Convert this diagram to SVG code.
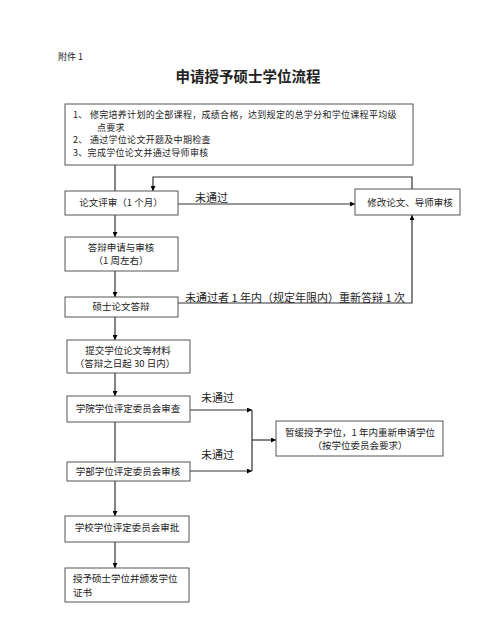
<svg xmlns="http://www.w3.org/2000/svg" width="500" height="625" viewBox="0 0 500 625">
<defs>
<marker id="ah" viewBox="0 0 10 10" refX="10" refY="5" markerWidth="5" markerHeight="5" orient="auto" markerUnits="userSpaceOnUse">
<path d="M0,0 L10,5 L0,10 z" fill="#000"/>
</marker>
<style>
.box{fill:#fff;stroke:#555;stroke-width:1}
.t{font-family:"Noto Sans CJK SC","Liberation Serif",sans-serif;font-size:9.5px;fill:#222}
.s{font-size:9px;letter-spacing:0.3px}
.c{text-anchor:middle}
.lbl{font-family:"Noto Sans CJK SC","Liberation Serif",sans-serif;font-size:11px;fill:#222}
.ln{fill:none;stroke:#333;stroke-width:1.2}
.ar{fill:none;stroke:#333;stroke-width:1.2;marker-end:url(#ah)}
</style>
</defs>
<rect width="500" height="625" fill="#fff"/>
<text x="58" y="60" class="t" style="font-size:9px">附件 1</text>
<text x="248" y="82" class="t c" style="font-size:14.5px;font-weight:bold">申请授予硕士学位流程</text>

<g id="connectors">
<path class="ln" d="M115,165 V191"/>
<path class="ar" d="M412,189 V177 H153 V191"/>
<path class="ar" d="M178,204 H355"/>
<path class="ar" d="M115,215 V237"/>
<path class="ar" d="M115,271 V297"/>
<path class="ar" d="M178,303 H412 V215"/>
<path class="ar" d="M115,317 V340"/>
<path class="ar" d="M115,373 V396"/>
<path class="ln" d="M115,422 V462"/>
<path class="ar" d="M190,410 H252"/>
<path class="ar" d="M190,471 H252"/>
<path class="ln" d="M252,410 V471"/>
<path class="ar" d="M252,440 H276"/>
<path class="ar" d="M115,481 V516"/>
<path class="ar" d="M115,542 V568"/>
<text x="195" y="202" class="lbl">未通过</text>
<text x="185" y="302" class="lbl">未通过者 1 年内（规定年限内）重新答辩 1 次</text>
<text x="201" y="402" class="lbl">未通过</text>
<text x="201" y="459" class="lbl">未通过</text>
</g>

<g id="n1">
<rect class="box" x="65" y="104" width="348" height="61"/>
<text x="73" y="118" class="t s">1、 修完培养计划的全部课程，成绩合格，达到规定的总学分和学位课程平均级</text>
<text x="97" y="130.5" class="t s">点要求</text>
<text x="73" y="143" class="t s">2、 通过学位论文开题及中期检查</text>
<text x="73" y="155.5" class="t s">3、完成学位论文并通过导师审核</text>
</g>
<g id="n2">
<rect class="box" x="65" y="191" width="113" height="24"/>
<text x="121" y="206" class="t c">论文评审（1 个月）</text>
</g>
<g id="n3">
<rect class="box" x="355" y="189" width="105" height="26"/>
<text x="410" y="206" class="t c">修改论文、导师审核</text>
</g>
<g id="n4">
<rect class="box" x="65" y="237" width="113" height="34"/>
<text x="121" y="250.5" class="t c">答辩申请与审核</text>
<text x="121" y="264" class="t c">（1 周左右）</text>
</g>
<g id="n5">
<rect class="box" x="65" y="297" width="113" height="20"/>
<text x="121" y="310" class="t c">硕士论文答辩</text>
</g>
<g id="n6">
<rect class="box" x="67" y="340" width="123" height="33"/>
<text x="128" y="353.5" class="t c">提交学位论文等材料</text>
<text x="125" y="367" class="t c">（答辩之日起 30 日内）</text>
</g>
<g id="n7">
<rect class="box" x="67" y="396" width="123" height="26"/>
<text x="128" y="412" class="t c">学院学位评定委员会审查</text>
</g>
<g id="n8">
<rect class="box" x="67" y="462" width="123" height="19"/>
<text x="128" y="475" class="t c">学部学位评定委员会审核</text>
</g>
<g id="n9">
<rect class="box" x="276" y="421" width="167" height="35"/>
<text x="360" y="435.5" class="t c">暂缓授予学位，1 年内重新申请学位</text>
<text x="360" y="449" class="t c">（按学位委员会要求）</text>
</g>
<g id="n10">
<rect class="box" x="65" y="516" width="124" height="26"/>
<text x="127" y="531" class="t c">学校学位评定委员会审批</text>
</g>
<g id="n11">
<rect class="box" x="65" y="568" width="124" height="34"/>
<text x="73" y="582" class="t">授予硕士学位并颁发学位</text>
<text x="73" y="596" class="t">证书</text>
</g>
</svg>
